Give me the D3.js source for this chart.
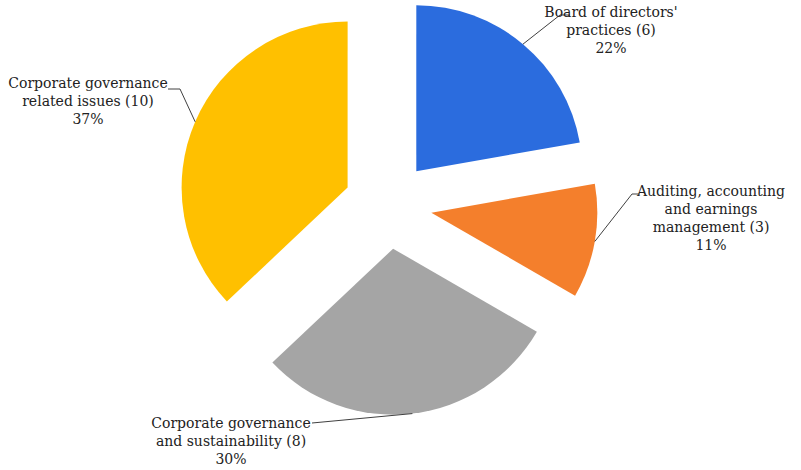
<!DOCTYPE html>
<html>
<head>
<meta charset="utf-8">
<script src="https://cdn.jsdelivr.net/npm/d3@7"></script>
<style>
  body { margin: 0; background: #fff; }
  text { font-family: "DejaVu Serif", serif; font-size: 14px; fill: #222; }
</style>
</head>
<body>
<svg id="chart" width="801" height="470"></svg>
<script>
// --- data ---
const categories = [
  ["Board of directors'", "practices (6)"],
  ["Auditing, accounting", "and earnings", "management (3)"],
  ["Corporate governance", "and sustainability (8)"],
  ["Corporate governance", "related issues (10)"]
];
const counts = [6, 3, 8, 10];
const colors = ["#2b6cde", "#f47f2c", "#a5a5a5", "#ffc000"];

// label placement: elbow point of leader, end of leader, text centre
const labelLayout = [
  { elbow: [560, 15], end: [570, 15], tx: 611, ty: 17 },
  { elbow: [632, 194], end: [640, 194], tx: 711, ty: 196 },
  { elbow: null, end: [312, 423], tx: 231, ty: 428 },
  { elbow: [180, 89], end: [168, 89], tx: 88, ty: 88 }
];

const svg = d3.select("#chart");
const cx = 388, cy = 205, radius = 166, explode = 44;
const total = d3.sum(counts);

const pie = d3.pie().sort(null).value(d => d);
const arcs = pie(counts);
const arc = d3.arc().innerRadius(0).outerRadius(radius);

const g = svg.append("g").attr("transform", `translate(${cx},${cy})`);

function dir(a) { return [Math.sin(a), -Math.cos(a)]; }

arcs.forEach(d => {
  const mid = (d.startAngle + d.endAngle) / 2;
  const [ux, uy] = dir(mid);
  d.off = [ux * explode, uy * explode];
  d.mid = mid;
});

g.selectAll("path.slice")
  .data(arcs)
  .join("path")
  .attr("class", "slice")
  .attr("transform", d => `translate(${d.off[0]},${d.off[1]})`)
  .attr("d", arc)
  .attr("fill", (d, i) => colors[i]);

// leaders + labels
arcs.forEach((d, i) => {
  const L = labelLayout[i];
  const [ux, uy] = dir(d.mid);
  const start = [cx + d.off[0] + ux * radius, cy + d.off[1] + uy * radius];
  const pts = [start];
  if (L.elbow) pts.push(L.elbow);
  pts.push(L.end);
  svg.append("path")
    .attr("d", d3.line()(pts))
    .attr("fill", "none")
    .attr("stroke", "#404040")
    .attr("stroke-width", 1);

  const lines = categories[i].concat([Math.round(counts[i] / total * 100) + "%"]);
  const t = svg.append("text").attr("text-anchor", "middle");
  lines.forEach((s, k) => {
    t.append("tspan")
      .attr("x", L.tx)
      .attr("y", L.ty + k * 18)
      .text(s);
  });
});
</script>
</body>
</html>
